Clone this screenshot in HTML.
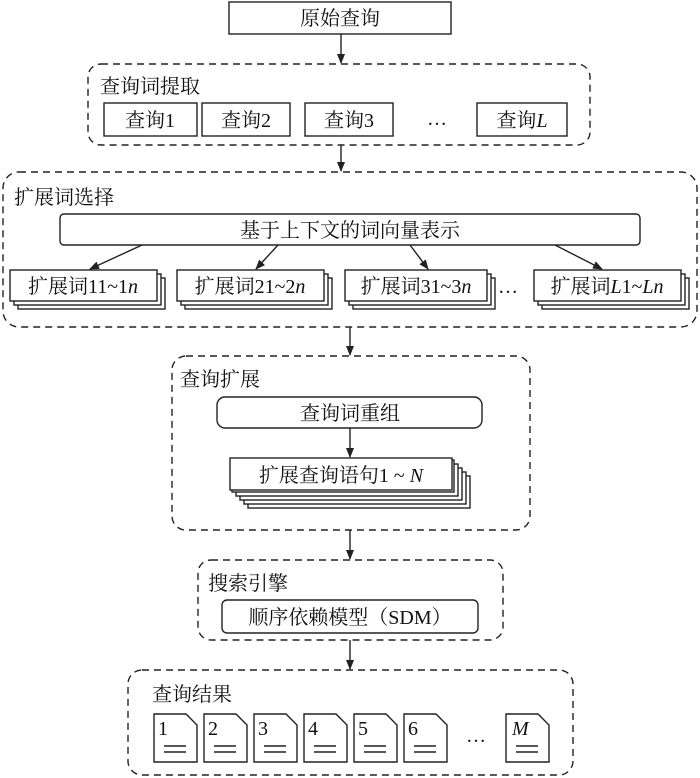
<!DOCTYPE html>
<html><head><meta charset="utf-8"><style>
html,body{margin:0;padding:0;background:#fff;}
svg{display:block;}
text{font-family:"Liberation Serif","Noto Serif CJK SC",serif;font-size:20px;fill:#111;}
.b{fill:#fff;stroke:#222;stroke-width:1.4;}
.d{fill:none;stroke:#222;stroke-width:1.4;stroke-dasharray:7,5;}
.l{stroke:#222;stroke-width:1.4;fill:none;}
</style></head><body>
<svg width="700" height="778" viewBox="0 0 700 778">
<defs><marker id="a" markerWidth="10" markerHeight="10" refX="9" refY="5" orient="auto" markerUnits="userSpaceOnUse"><path d="M0,1 L10,5 L0,9 Z" fill="#222"/></marker></defs>

<rect class="b" x="229" y="2" width="222" height="32"/>
<text x="340" y="25" text-anchor="middle">原始查询</text>
<line class="l" x1="341" y1="34" x2="341" y2="63" marker-end="url(#a)"/>

<rect class="d" x="88" y="64" width="502" height="81" rx="13"/>
<text x="100" y="93">查询词提取</text>
<rect class="b" x="104" y="103" width="93" height="33"/><text x="150" y="127" text-anchor="middle">查询1</text>
<rect class="b" x="202" y="103" width="88" height="33"/><text x="246" y="127" text-anchor="middle">查询2</text>
<rect class="b" x="305" y="103" width="88" height="33"/><text x="349" y="127" text-anchor="middle">查询3</text>
<text x="437" y="125" text-anchor="middle">…</text>
<rect class="b" x="477" y="103" width="90" height="33"/><text x="522" y="127" text-anchor="middle">查询<tspan font-style="italic">L</tspan></text>
<line class="l" x1="341" y1="145" x2="341" y2="171" marker-end="url(#a)"/>

<rect class="d" x="3" y="172" width="694" height="155" rx="16"/>
<text x="14" y="204">扩展词选择</text>
<rect class="b" x="60" y="214" width="580" height="31" rx="4"/>
<text x="350" y="237" text-anchor="middle">基于上下文的词向量表示</text>
<g>
<rect class="b" x="18" y="278" width="147" height="31"/><rect class="b" x="14" y="274" width="147" height="31"/><rect class="b" x="10" y="270" width="147" height="31"/>
<text x="83" y="293" text-anchor="middle">扩展词11~1<tspan font-style="italic">n</tspan></text>
<rect class="b" x="185" y="278" width="147" height="31"/><rect class="b" x="181" y="274" width="147" height="31"/><rect class="b" x="177" y="270" width="147" height="31"/>
<text x="250" y="293" text-anchor="middle">扩展词21~2<tspan font-style="italic">n</tspan></text>
<rect class="b" x="353" y="278" width="142" height="31"/><rect class="b" x="349" y="274" width="142" height="31"/><rect class="b" x="345" y="270" width="142" height="31"/>
<text x="416" y="293" text-anchor="middle">扩展词31~3<tspan font-style="italic">n</tspan></text>
<text x="508" y="293" text-anchor="middle">…</text>
<rect class="b" x="542" y="278" width="147" height="31"/><rect class="b" x="538" y="274" width="147" height="31"/><rect class="b" x="534" y="270" width="147" height="31"/>
<text x="607" y="293" text-anchor="middle">扩展词<tspan font-style="italic">L</tspan>1~<tspan font-style="italic">Ln</tspan></text>
</g>
<line class="l" x1="142" y1="245" x2="90" y2="269" marker-end="url(#a)"/>
<line class="l" x1="278" y1="245" x2="256" y2="269" marker-end="url(#a)"/>
<line class="l" x1="410" y1="245" x2="428" y2="269" marker-end="url(#a)"/>
<line class="l" x1="555" y1="245" x2="602" y2="269" marker-end="url(#a)"/>
<line class="l" x1="350" y1="327" x2="350" y2="355" marker-end="url(#a)"/>

<rect class="d" x="172" y="356" width="358" height="174" rx="14"/>
<text x="180" y="386">查询扩展</text>
<rect class="b" x="217" y="397" width="265" height="31" rx="8"/>
<text x="350" y="420" text-anchor="middle">查询词重组</text>
<line class="l" x1="350" y1="428" x2="350" y2="457" marker-end="url(#a)"/>
<rect class="b" x="248" y="476" width="222" height="32"/>
<rect class="b" x="244" y="472" width="222" height="32"/>
<rect class="b" x="240" y="468" width="222" height="32"/>
<rect class="b" x="236" y="464" width="222" height="32"/>
<rect class="b" x="232" y="460" width="222" height="32"/>
<rect class="b" x="230" y="458" width="222" height="32"/>
<text x="341" y="482" text-anchor="middle">扩展查询语句1 ~ <tspan font-style="italic">N</tspan></text>
<line class="l" x1="350" y1="530" x2="350" y2="559" marker-end="url(#a)"/>

<rect class="d" x="198" y="560" width="305" height="80" rx="13"/>
<text x="208" y="590">搜索引擎</text>
<rect class="b" x="222" y="600" width="256" height="33" rx="5"/>
<text x="350" y="624" text-anchor="middle">顺序依赖模型（SDM）</text>
<line class="l" x1="350" y1="640" x2="350" y2="669" marker-end="url(#a)"/>

<rect class="d" x="128" y="670" width="445" height="105" rx="14"/>
<text x="152" y="701">查询结果</text>
<g>
<path class="b" d="M154,714 H186 L197,725 V762 H154 Z"/><text x="158" y="735">1</text><line class="l" x1="164" y1="746" x2="186" y2="746"/><line class="l" x1="164" y1="752" x2="186" y2="752"/>
<path class="b" d="M204,714 H236 L247,725 V762 H204 Z"/><text x="208" y="735">2</text><line class="l" x1="214" y1="746" x2="236" y2="746"/><line class="l" x1="214" y1="752" x2="236" y2="752"/>
<path class="b" d="M254,714 H286 L297,725 V762 H254 Z"/><text x="258" y="735">3</text><line class="l" x1="264" y1="746" x2="286" y2="746"/><line class="l" x1="264" y1="752" x2="286" y2="752"/>
<path class="b" d="M304,714 H336 L347,725 V762 H304 Z"/><text x="308" y="735">4</text><line class="l" x1="314" y1="746" x2="336" y2="746"/><line class="l" x1="314" y1="752" x2="336" y2="752"/>
<path class="b" d="M354,714 H386 L397,725 V762 H354 Z"/><text x="358" y="735">5</text><line class="l" x1="364" y1="746" x2="386" y2="746"/><line class="l" x1="364" y1="752" x2="386" y2="752"/>
<path class="b" d="M404,714 H436 L447,725 V762 H404 Z"/><text x="408" y="735">6</text><line class="l" x1="414" y1="746" x2="436" y2="746"/><line class="l" x1="414" y1="752" x2="436" y2="752"/>
<text x="476" y="742" text-anchor="middle">…</text>
<path class="b" d="M506,714 H538 L549,725 V762 H506 Z"/><text x="512" y="735" font-style="italic">M</text><line class="l" x1="516" y1="746" x2="538" y2="746"/><line class="l" x1="516" y1="752" x2="538" y2="752"/>
</g>
</svg>
</body></html>
